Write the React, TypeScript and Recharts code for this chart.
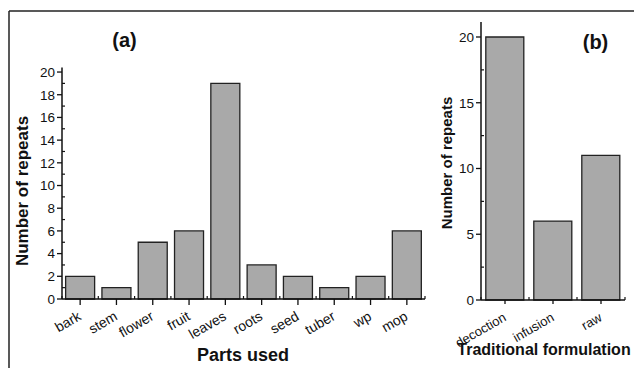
import { BarChart, Bar, XAxis, YAxis } from "recharts";

const parts = ["bark", "stem", "flower", "fruit", "leaves", "roots", "seed", "tuber", "wp", "mop"];
const partCounts = [2, 1, 5, 6, 19, 3, 2, 1, 2, 6];
const partTicks = [0, 1, 2, 3, 4, 5, 6, 7, 8, 9, 10, 11, 12, 13, 14, 15, 16, 17, 18, 19, 20];

const formulations = ["decoction", "infusion", "raw"];
const formulationCounts = [20, 6, 11];
const formulationTicks = [0, 2.5, 5, 7.5, 10, 12.5, 15, 17.5, 20];

const partsData = parts.map((name, i) => ({ name, value: partCounts[i] }));
const formulationData = formulations.map((name, i) => ({ name, value: formulationCounts[i] }));

const FONT = "'Liberation Sans', Arial, sans-serif";
const BAR_FILL = "#a9a9a9";
const INK = "#111";

function XTick(props: any) {
  const { x, y, payload, band, count, major, fontSize } = props;
  const lx = x + 2;
  const ly = y + 20;
  return (
    <g>
      <line x1={x} y1={y} x2={x} y2={y + major} stroke={INK} strokeWidth={1.3} />
      <line x1={x - band / 2} y1={y} x2={x - band / 2} y2={y - 3} stroke={INK} strokeWidth={1.2} />
      {payload.index === count - 1 && (
        <line x1={x + band / 2} y1={y} x2={x + band / 2} y2={y - 3} stroke={INK} strokeWidth={1.2} />
      )}
      <text
        x={lx}
        y={ly}
        transform={`rotate(-30 ${lx} ${ly})`}
        textAnchor="end"
        fontSize={fontSize}
        fontFamily={FONT}
        fill={INK}
      >
        {payload.value}
      </text>
    </g>
  );
}

function YTick(props: any) {
  const { x, y, payload, step } = props;
  const isMajor = payload.value % step === 0;
  return (
    <g>
      {isMajor ? (
        <line x1={x - 5} y1={y} x2={x} y2={y} stroke={INK} strokeWidth={1.3} />
      ) : (
        <line x1={x} y1={y} x2={x + 3} y2={y} stroke={INK} strokeWidth={1.2} />
      )}
      {isMajor && (
        <text x={x - 7} y={y} dy="0.36em" textAnchor="end" fontSize={13.5} fontFamily={FONT} fill={INK}>
          {payload.value}
        </text>
      )}
    </g>
  );
}

export default function App() {
  return (
    <div
      style={{
        position: "fixed",
        left: 0,
        top: 0,
        width: 635,
        height: 368,
        background: "#fff",
        overflow: "hidden",
      }}
    >
      <div style={{ position: "absolute", left: 0, top: 0 }}>
        <BarChart
          width={440}
          height={368}
          data={partsData}
          margin={{ top: 67.5, right: 15, bottom: 0, left: 0 }}
          barCategoryGap="10%"
        >
          <XAxis
            dataKey="name"
            height={69}
            interval={0}
            tickSize={0}
            tickMargin={0}
            tickLine={false}
            axisLine={{ stroke: INK, strokeWidth: 1.5 }}
            tick={(p: any) => <XTick {...p} band={36.3} count={parts.length} major={6} fontSize={14} />}
          />
          <YAxis
            width={62}
            domain={[0, 20.4]}
            ticks={partTicks}
            interval={0}
            tickSize={0}
            tickMargin={0}
            tickLine={false}
            axisLine={{ stroke: INK, strokeWidth: 1.5 }}
            tick={(p: any) => <YTick {...p} step={2} />}
          />
          <Bar dataKey="value" fill={BAR_FILL} stroke="#222" strokeWidth={1.3} isAnimationActive={false} />
        </BarChart>
      </div>

      <div style={{ position: "absolute", left: 420, top: 0 }}>
        <BarChart
          width={215}
          height={368}
          data={formulationData}
          margin={{ top: 22, right: 10, bottom: 0, left: 0 }}
          barCategoryGap="10%"
        >
          <XAxis
            dataKey="name"
            height={68}
            interval={0}
            tickSize={0}
            tickMargin={0}
            tickLine={false}
            axisLine={{ stroke: INK, strokeWidth: 1.5 }}
            tick={(p: any) => <XTick {...p} band={48} count={formulations.length} major={4} fontSize={13} />}
          />
          <YAxis
            width={61}
            domain={[0, 21.14]}
            ticks={formulationTicks}
            interval={0}
            tickSize={0}
            tickMargin={0}
            tickLine={false}
            axisLine={{ stroke: INK, strokeWidth: 1.5 }}
            tick={(p: any) => <YTick {...p} step={5} />}
          />
          <Bar dataKey="value" fill={BAR_FILL} stroke="#222" strokeWidth={1.3} isAnimationActive={false} />
        </BarChart>
      </div>

      <svg
        width={635}
        height={368}
        style={{ position: "absolute", left: 0, top: 0, pointerEvents: "none" }}
        fontFamily={FONT}
        fill={INK}
      >
        <line x1={9} y1={11} x2={634} y2={11} stroke="#222" strokeWidth={1.5} />
        <line x1={9} y1={11} x2={9} y2={368} stroke="#222" strokeWidth={1.5} />
        <text x={124.5} y={47} textAnchor="middle" fontSize={20} fontWeight="bold">
          (a)
        </text>
        <text x={595.5} y={49} textAnchor="middle" fontSize={20} fontWeight="bold">
          (b)
        </text>
        <text x={243} y={361} textAnchor="middle" fontSize={18} fontWeight="bold">
          Parts used
        </text>
        <text x={544} y={355} textAnchor="middle" fontSize={16} fontWeight="bold">
          Traditional formulation
        </text>
        <text
          x={28}
          y={191}
          transform="rotate(-90 28 191)"
          textAnchor="middle"
          fontSize={17}
          fontWeight="bold"
        >
          Number of repeats
        </text>
        <text
          x={452}
          y={163}
          transform="rotate(-90 452 163)"
          textAnchor="middle"
          fontSize={15}
          fontWeight="bold"
        >
          Number of repeats
        </text>
      </svg>
    </div>
  );
}
